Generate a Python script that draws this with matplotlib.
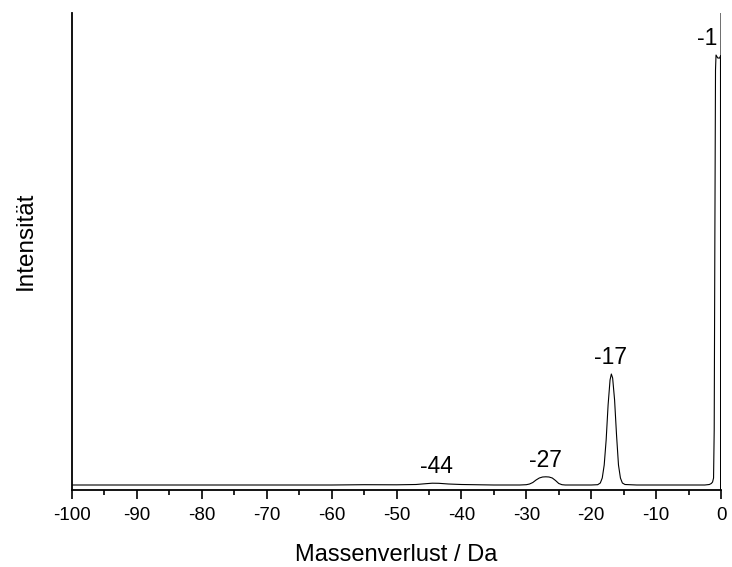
import matplotlib
matplotlib.use("Agg")
import matplotlib.pyplot as plt
from matplotlib.ticker import MultipleLocator

plt.rcParams['font.family'] = ['Liberation Sans', 'DejaVu Sans']

# Data (mass loss in Da, intensity in arbitrary units)
mass_loss = [-100, -80, -60, -55, -50, -47, -45.5, -44.5, -43.5, -42, -40, -35,
             -31, -30, -29.5, -29, -28.5, -28, -27.5, -27, -26.5, -26, -25.5, -25,
             -24.5, -24, -20, -19, -18.6, -18.3, -18, -17.7, -17.4, -17.1, -16.9,
             -16.7, -16.4, -16.1, -15.8, -15.5, -15.2, -14.8, -13, -10, -5, -2.5,
             -1.8, -1.5, -1.3, -1.15, -1.05, -0.95, -0.85, -0.77, -0.5, -0.2,
             -0.08, -0.06, 0.0]
intensity = [5.0, 5.0, 5.0, 5.3, 5.2, 5.5, 6.3, 6.8, 6.7, 6.0, 5.5, 5.0,
             5.0, 5.3, 6.0, 7.5, 10.0, 12.0, 13.0, 13.2, 13.0, 12.0, 9.5, 6.5,
             5.3, 5.0, 5.0, 5.3, 7.0, 12.0, 25.0, 50.0, 85.0, 110.0, 116.0,
             112.0, 90.0, 55.0, 25.0, 12.0, 7.0, 5.5, 5.0, 5.0, 5.0, 5.0,
             5.5, 6.5, 8.0, 12.0, 60.0, 250.0, 420.0, 435.0, 432.0, 432.0,
             434.0, 0.0, 480.0]

peak_labels = ["-1", "-17", "-27", "-44"]
peak_label_x = [-2.1, -17.0, -27.1, -43.8]
peak_label_y = [452, 133, 30, 24]

x_ticks = [-100, -90, -80, -70, -60, -50, -40, -30, -20, -10, 0]

fig = plt.figure(figsize=(7.32, 5.67), dpi=100)
ax = fig.add_axes([0.0984, 0.1358, 0.8866, 0.8412])

ax.plot(mass_loss, intensity, color='black', linewidth=0.8)

for t, x, y in zip(peak_labels, peak_label_x, peak_label_y):
    ax.text(x, y, t, ha='center', va='center', fontsize=16.5)

ax.set_xlim(-100, 0)
ax.set_ylim(0, 477)
ax.set_xticks(x_ticks)
ax.set_xticklabels([str(v) for v in x_ticks])
ax.xaxis.set_minor_locator(MultipleLocator(5))
ax.tick_params(axis='x', which='major', direction='out', length=6.5, width=1.2,
               labelsize=13.5, pad=6)
ax.tick_params(axis='x', which='minor', direction='out', length=3.5, width=1.2)
ax.set_yticks([])

for side in ['top', 'right']:
    ax.spines[side].set_visible(False)
for side in ['left', 'bottom']:
    ax.spines[side].set_linewidth(1.3)

ax.set_xlabel('Massenverlust / Da', fontsize=17, labelpad=14)
ax.set_ylabel('Intensität', fontsize=17.5)
ax.yaxis.set_label_coords(-0.054, 0.522)

fig.savefig('out.png', dpi=100)
